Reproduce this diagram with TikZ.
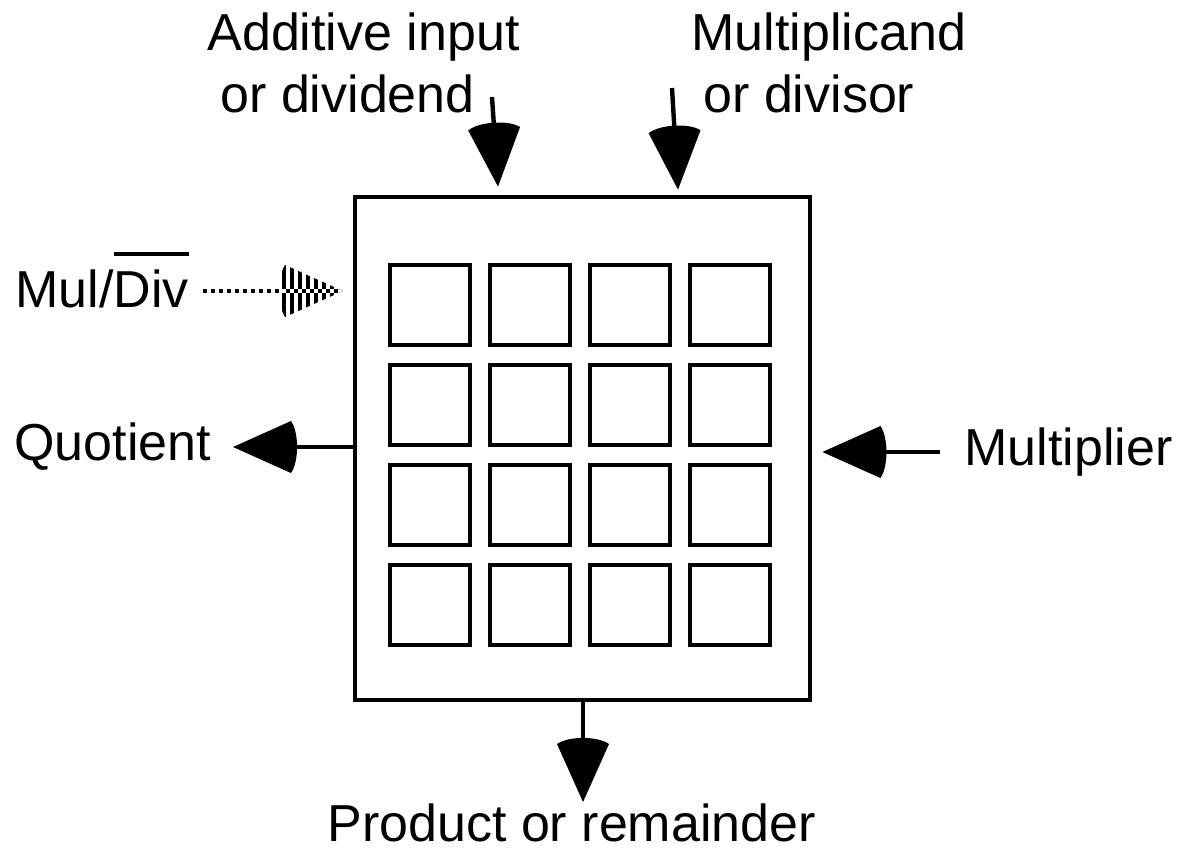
\documentclass[tikz,border=0pt]{standalone}
\usepackage{fontspec}
\setmainfont{Liberation Sans}
\usetikzlibrary{arrows.meta,calc}
\pgfdeclarearrow{
  name = Sector,
  parameters = {\the\pgfarrowlength,\the\pgfarrowwidth},
  setup code = {
    \pgfarrowssettipend{0pt}
    \pgfarrowssetbackend{-1.12\pgfarrowlength}
    \pgfarrowssetlineend{-0.6\pgfarrowlength}
    \pgfarrowssavethe\pgfarrowlength
    \pgfarrowssavethe\pgfarrowwidth
  },
  drawing code = {
    \pgfpathmoveto{\pgfpoint{0pt}{0pt}}
    \pgfpathlineto{\pgfpoint{-\pgfarrowlength}{0.5\pgfarrowwidth}}
    \pgfpathcurveto{\pgfpoint{-1.14\pgfarrowlength}{0.28\pgfarrowwidth}}
                   {\pgfpoint{-1.14\pgfarrowlength}{-0.28\pgfarrowwidth}}
                   {\pgfpoint{-\pgfarrowlength}{-0.5\pgfarrowwidth}}
    \pgfpathclose
    \pgfusepathqfill
  },
  defaults = {length=29pt, width=26pt}
}
\newcommand\ovbar[1]{\setbox0=\hbox{#1}\rlap{\rule[25.5pt]{\wd0}{2pt}}\box0}
\begin{document}
\begin{tikzpicture}[x=0.5pt,y=-0.5pt,
  lbl/.style={anchor=base west,inner sep=0pt,font=\fontsize{26}{31}\selectfont},
  cell/.style={draw,line width=2.4pt,minimum width=40pt,minimum height=40pt,inner sep=0pt},
  frame/.style={draw,line width=2.4pt,minimum width=227.5pt,minimum height=251.5pt,inner sep=0pt},
  arr/.style={line width=2.2pt,-{Sector[length=29pt,width=26pt]}},
  dotline/.style={line width=2.4pt,dash pattern=on 2pt off 2pt}]
\useasboundingbox (0,0) rectangle (1192,847);
% main block and cell array
\node[frame] (box) at (582.5,448.5) {};
\foreach \i in {0,...,3} \foreach \j in {0,...,3}
  \node[cell] (c\i\j) at ({430+100*\j},{305+100*\i}) {};
% labels
\node[lbl] (add1) at (207,50) {Additive input};
\node[lbl] (add2) at (220,112) {or dividend};
\node[lbl] (mc1) at (691,50) {Multiplicand};
\node[lbl] (mc2) at (703,112) {or divisor};
\node[lbl] (md) at (15,307) {Mul/\ovbar{Div}};
\node[lbl] (quot) at (14,460) {Quotient};
\node[lbl] (mult) at (964,465) {Multiplier};
\node[lbl] (prod) at (327,841) {Product or remainder};
% arrow end points
\coordinate (in1) at (492,97);
\coordinate (tip1) at ($(box.north)+(-84.5,-8)$);
\coordinate (in2) at (672,88);
\coordinate (tip2) at ($(box.north)+(95.5,-5)$);
\coordinate (pout) at ($(box.south)+(0.5,0)$);
\coordinate (ptip) at (583,802);
\coordinate (qout) at ($(box.west)+(0,-1.5)$);
\coordinate (qtip) at (233,447);
\coordinate (mtail) at (940,452);
\coordinate (mtip) at ($(box.east)+(10,3.5)$);
\coordinate (mdstart) at (203,291);
\coordinate (mdtip) at (343,291);
% connectors
\draw[arr] (in1) -- (tip1);
\draw[arr] (in2) -- (tip2);
\draw[arr] (pout) -- (ptip);
\draw[arr] (qout) -- (qtip);
\draw[arr] (mtail) -- (mtip);
\draw[dotline] (mdstart) -- (283,291);
\begin{scope}
  \clip (mdtip) -- (285,265) .. controls (277,278) and (277,304) .. (285,317) -- cycle;
  \foreach \k in {0,...,8}
    \fill ({282+8*\k},250) rectangle ({286+8*\k},330);
  \foreach \k in {0,...,8}
    \fill[white] ({282+8*\k},289) rectangle ({286+8*\k},293);
  \foreach \k in {0,...,8}
    \fill ({286+8*\k},289) rectangle ({290+8*\k},293);
\end{scope}
\end{tikzpicture}
\end{document}
